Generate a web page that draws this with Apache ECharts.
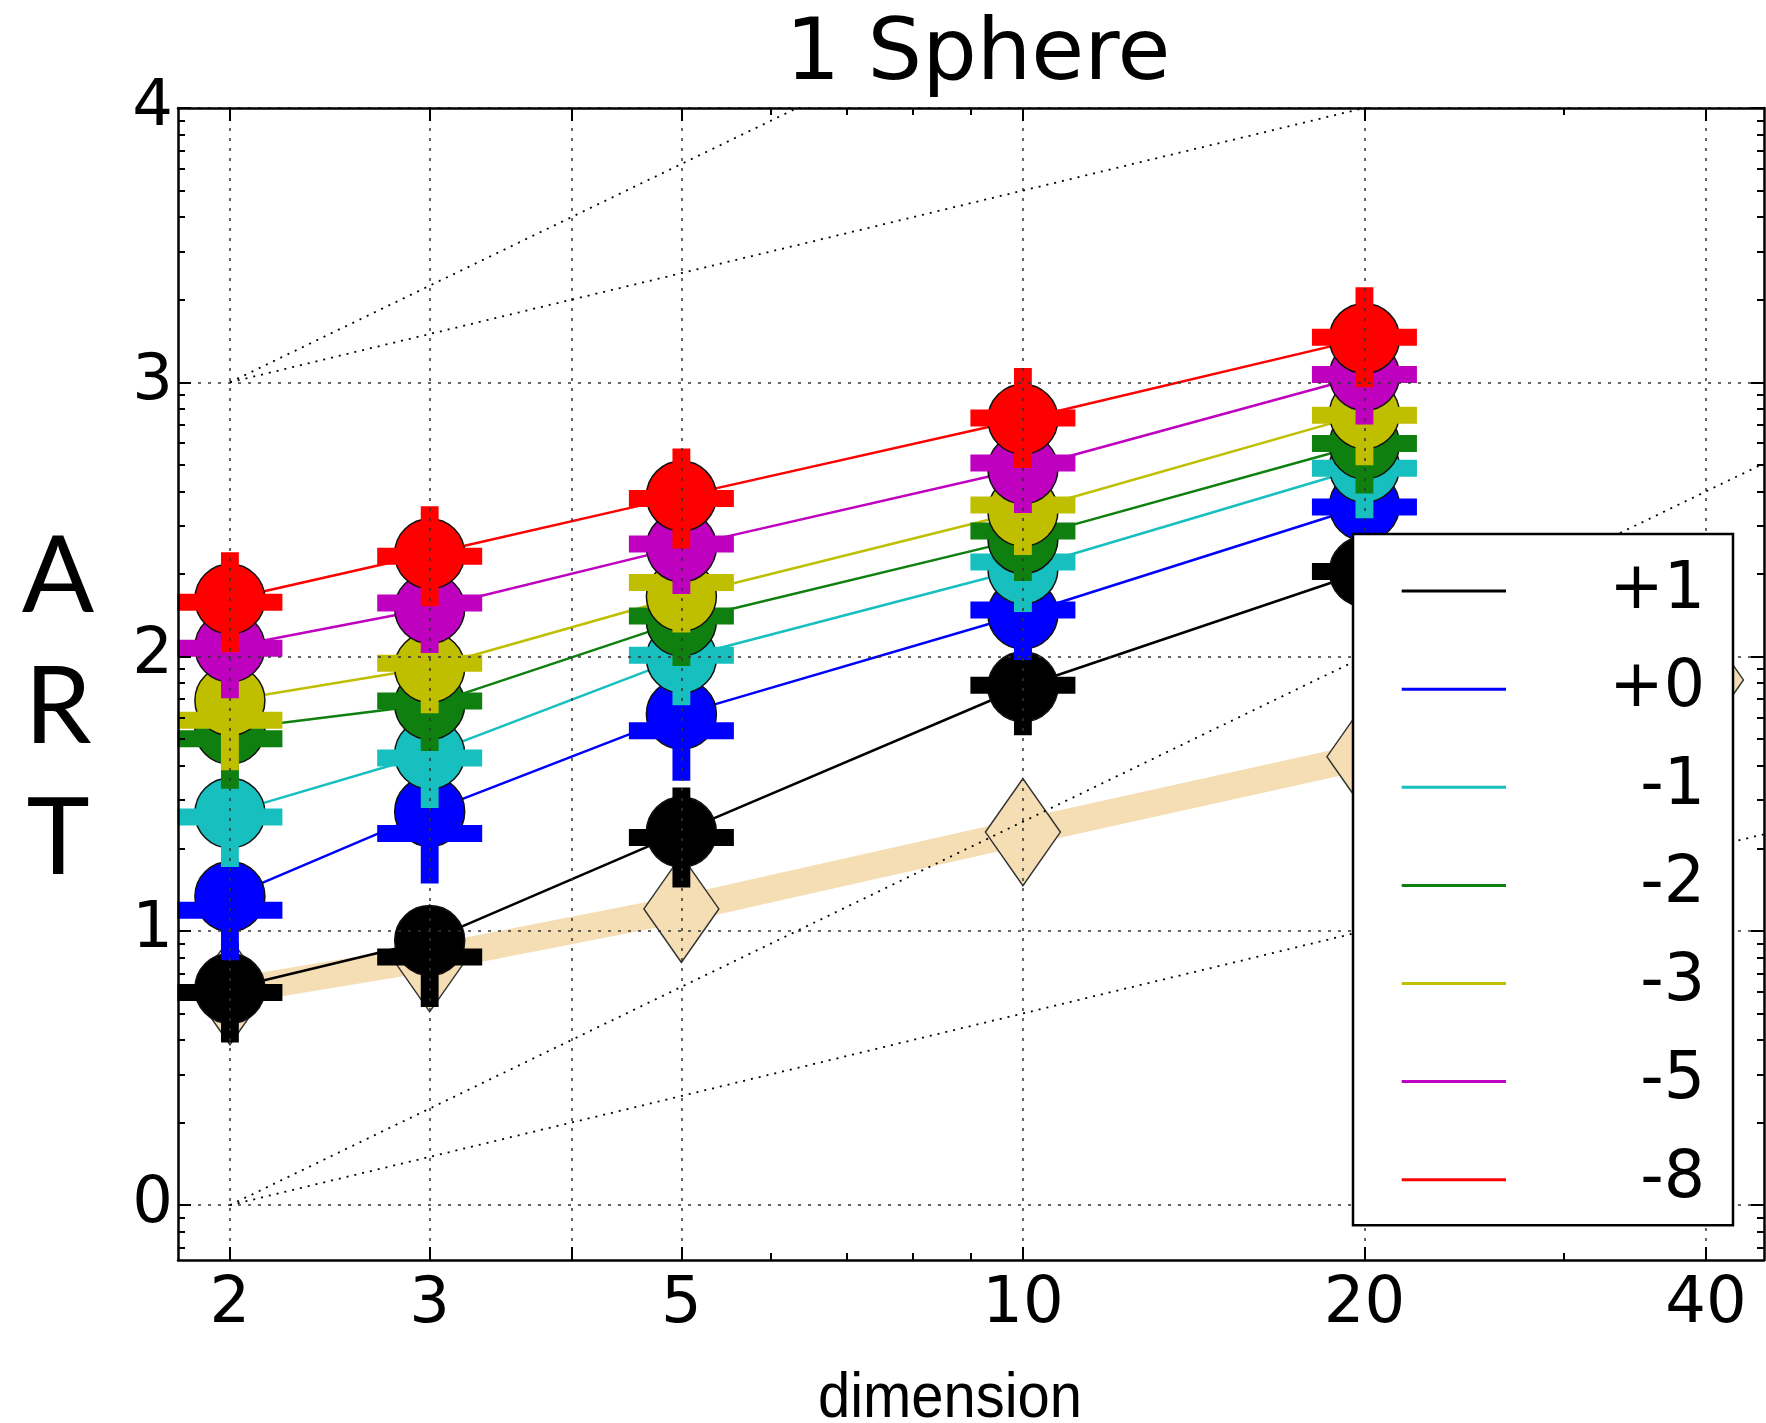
<!DOCTYPE html>
<html>
<head>
<meta charset="utf-8">
<script src="https://cdn.jsdelivr.net/npm/echarts@6/dist/echarts.min.js"></script>
<style>
html, body { margin: 0; padding: 0; background: #fff; }
#main { width: 1766px; height: 1423px; }
</style>
</head>
<body>
<div id="main"></div>
<script>
// dimensions and log10(ART)
var dims = [2, 3, 5, 10, 20];
var bestDims = [2, 3, 5, 10, 20, 40];
var best2009 = [0.78, 0.90, 1.08, 1.36, 1.635, 1.915];

var targetNames = ['+1', '+0', '-1', '-2', '-3', '-5', '-8'];
var targetColors = ['#000000', '#0000ff', '#17bfbf', '#0f7f0f', '#bfbf00', '#bf00bf', '#ff0000'];

// ERT (circles, joined by lines)
var ertP1 = [0.79, 0.965, 1.36, 1.89, 2.31];
var ertP0 = [1.125, 1.435, 1.79, 2.155, 2.55];
var ertM1 = [1.43, 1.645, 1.995, 2.32, 2.69];
var ertM2 = [1.735, 1.825, 2.13, 2.43, 2.775];
var ertM3 = [1.84, 1.96, 2.22, 2.53, 2.885];
var ertM5 = [2.035, 2.175, 2.40, 2.685, 3.025];
var ertM8 = [2.21, 2.375, 2.585, 2.865, 3.16];

// medians (thick plus markers)
var medP1 = [0.775, 0.905, 1.34, 1.895, 2.31];
var medP0 = [1.075, 1.355, 1.73, 2.17, 2.545];
var medM1 = [1.415, 1.63, 2.005, 2.345, 2.687];
var medM2 = [1.70, 1.838, 2.148, 2.458, 2.777];
var medM3 = [1.768, 1.976, 2.27, 2.553, 2.88];
var medM5 = [2.03, 2.195, 2.41, 2.706, 3.028];
var medM8 = [2.198, 2.366, 2.576, 2.87, 3.164];

var ertAll = [ertP1, ertP0, ertM1, ertM2, ertM3, ertM5, ertM8];
var medAll = [medP1, medP0, medM1, medM2, medM3, medM5, medM8];

// axis ticks
var xMajorTicks = [2, 3, 4, 5, 10, 20, 40];
var xLabelTicks = [2, 3, 5, 10, 20, 40];
var xMinorTicks = [6, 7, 8, 9, 30];
var yMajorTicks = [0, 1, 2, 3, 4];
var yMinorMant = [2, 3, 4, 5, 6, 7, 8, 9];
var yDecades = [-1, 0, 1, 2, 3];
var xMin = 1.8, xMax = 45, yMin = -0.2, yMax = 4;

// dotted guide lines: linear and quadratic scaling
var refOrigins = [0, 3];
var refSlopes = [1, 2];

function lg(d) { return Math.log10(d); }

var yMinorTicks = [];
yDecades.forEach(function (k) {
    yMinorMant.forEach(function (m) {
        var v = k + lg(m);
        if (v > yMin && v < yMax) yMinorTicks.push(v);
    });
});

var spine = { onZero: false, lineStyle: { color: '#000', width: 2.5 } };

function xAxisDef(pos, ticks, len, main) {
    return {
        type: 'value', position: pos, min: lg(xMin), max: lg(xMax), z: 3,
        axisLine: main ? spine : { show: false, onZero: false },
        axisTick: { show: true, inside: true, length: len, customValues: ticks.map(lg),
            lineStyle: { color: '#000', width: 2 } },
        axisLabel: (main && pos === 'bottom') ? {
            customValues: xLabelTicks.map(lg),
            formatter: function (v) { return String(Math.round(Math.pow(10, v))); },
            fontSize: 64, fontFamily: 'DejaVu Sans', color: '#000', margin: 13
        } : { show: false },
        splitLine: (main && pos === 'bottom') ? {
            show: true, lineStyle: { color: '#333', width: 1.5, type: [3, 7] }
        } : { show: false }
    };
}

function yAxisDef(pos, ticks, len, main) {
    return {
        type: 'value', position: pos, min: yMin, max: yMax, z: 3,
        axisLine: main ? spine : { show: false, onZero: false },
        axisTick: { show: true, inside: true, length: len, customValues: ticks,
            lineStyle: { color: '#000', width: 2 } },
        axisLabel: (main && pos === 'left') ? {
            customValues: yMajorTicks,
            fontSize: 64, fontFamily: 'DejaVu Sans', color: '#000', margin: 5
        } : { show: false },
        splitLine: (main && pos === 'left') ? {
            show: true, lineStyle: { color: '#333', width: 1.5, type: [3, 7] }
        } : { show: false }
    };
}

var plusPath = 'path://M41.5,0h17v41.5h41.5v17h-41.5v41.5h-17v-41.5h-41.5v-17h41.5z';

var series = [];

series.push({
    name: 'best 2009', type: 'line', z: 2,
    data: bestDims.map(function (d, i) { return [lg(d), best2009[i]]; }),
    lineStyle: { color: '#f5deb3', width: 27 },
    symbol: 'diamond', symbolSize: [75, 107],
    itemStyle: { color: '#f5deb3', borderColor: '#333', borderWidth: 1.5 }
});

targetNames.forEach(function (name, k) {
    var c = targetColors[k];
    series.push({
        name: name, type: 'line', z: 2, color: c,
        data: dims.map(function (d, i) { return [lg(d), ertAll[k][i]]; }),
        lineStyle: { color: c, width: 2.5 },
        symbol: 'circle', symbolSize: 70,
        itemStyle: { color: c, borderColor: '#111', borderWidth: 1.5 }
    });
    series.push({
        name: name + ' median', type: 'scatter', z: 2,
        data: dims.map(function (d, i) { return [lg(d), medAll[k][i]]; }),
        symbol: plusPath, symbolSize: [105, 100],
        itemStyle: { color: c, borderWidth: 0, opacity: 1 }
    });
});

refOrigins.forEach(function (b) {
    refSlopes.forEach(function (s) {
        series.push({
            name: 'ref ' + b + '/' + s, type: 'line', z: 3, clip: true,
            data: [2, xMax].map(function (d) { return [lg(d), b + s * lg(d / 2)]; }),
            symbol: 'none',
            lineStyle: { color: '#000', width: 1.8, type: [2, 6] }
        });
    });
});

var chart = echarts.init(document.getElementById('main'));
chart.setOption({
    animation: false,
    backgroundColor: '#fff',
    title: {
        text: '1 Sphere', left: 978, top: 14, textAlign: 'center', padding: 0,
        textStyle: { fontSize: 86, fontWeight: 'normal', fontFamily: 'DejaVu Sans', color: '#000' }
    },
    grid: { left: 178, right: 2, top: 108, bottom: 163 },
    xAxis: [
        xAxisDef('bottom', xMajorTicks, 13, true),
        xAxisDef('bottom', xMinorTicks, 7, false),
        xAxisDef('top', xMajorTicks, 13, true),
        xAxisDef('top', xMinorTicks, 7, false)
    ],
    yAxis: [
        yAxisDef('left', yMajorTicks, 13, true),
        yAxisDef('left', yMinorTicks, 7, false),
        yAxisDef('right', yMajorTicks, 13, true),
        yAxisDef('right', yMinorTicks, 7, false)
    ],
    legend: {
        data: targetNames, orient: 'vertical', left: 1353, top: 534,
        padding: [24.6, 28, 13, 48.7], itemWidth: 104.3, itemHeight: 3, itemGap: 33.1,
        icon: 'rect', itemStyle: { borderWidth: 0 },
        backgroundColor: '#fff', borderColor: '#000', borderWidth: 2.5, borderRadius: 0,
        selectedMode: false, z: 4,
        formatter: function (n) { return '{t|' + n + '}'; },
        textStyle: { rich: { t: { width: 194, align: 'right', fontSize: 65,
            fontFamily: 'DejaVu Sans', color: '#000', lineHeight: 70 } } }
    },
    graphic: [
        { type: 'text', x: 58, y: 708, z: 5,
          style: { text: 'A\nR\nT', font: '107px Lato', lineHeight: 131,
                   align: 'center', verticalAlign: 'middle', fill: '#000' } },
        { type: 'text', x: 950, y: 1400, scaleX: 0.92, z: 5,
          style: { text: 'dimension', font: '63px "Liberation Sans"',
                   align: 'center', verticalAlign: 'middle', fill: '#000' } }
    ],
    series: series
});
</script>
</body>
</html>
